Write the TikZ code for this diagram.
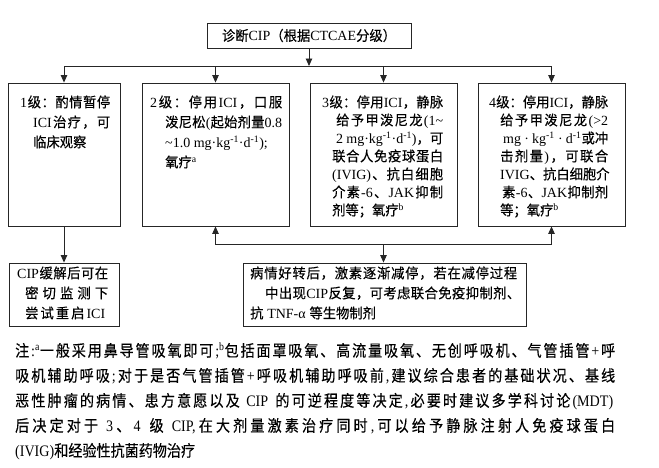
\documentclass[tikz,border=0pt]{standalone}
\usepackage{fontspec}
\usetikzlibrary{arrows.meta}
\setmainfont{Liberation Serif}
\newfontfamily\latnotefam{Liberation Serif}[FakeStretch=0.88]
\IfFontExistsTF{FandolSong-Regular.otf}{%
  \newfontfamily\cjkboxfam{FandolSong-Regular.otf}[FakeStretch=0.95]%
  \newfontfamily\cjknotefam{FandolSong-Regular.otf}[FakeStretch=0.88]}{%
  \newfontfamily\cjkboxfam{Noto Sans CJK SC}[FakeStretch=0.95,FakeBold=0.3]%
  \newfontfamily\cjknotefam{Noto Sans CJK SC}[FakeStretch=0.88,FakeBold=0.3]}
\def\curcjk{\cjkboxfam}
\def\curlat{\rmfamily}
\XeTeXinterchartokenstate=1
\newXeTeXintercharclass\CJKcls
\makeatletter
\count@="2E80
\loop\ifnum\count@<"A000 \XeTeXcharclass\count@=\CJKcls \advance\count@ by 1 \repeat
\count@="FF00
\loop\ifnum\count@<"FFF0 \XeTeXcharclass\count@=\CJKcls \advance\count@ by 1 \repeat
\makeatother
\XeTeXinterchartoks 0 \CJKcls = {\hskip 0pt plus 1pt\curcjk}
\XeTeXinterchartoks 4095 \CJKcls = {\curcjk}
\XeTeXinterchartoks \CJKcls 0 = {\hskip 0pt plus 1pt\curlat}
\XeTeXinterchartoks 4095 0 = {\curlat}
\XeTeXinterchartoks \CJKcls \CJKcls = {\hskip 0pt plus 1pt}
\newcommand\kgd{mg·kg\textsuperscript{-1}·d\textsuperscript{-1}}
\begin{document}
\begin{tikzpicture}[x=1pt,y=-1pt,
  box/.style={draw=black!85,line width=0.9pt,rectangle,inner sep=0pt},
  txt/.style={anchor=base west,inner sep=0pt,font=\boxfont},
  ntxt/.style={anchor=base west,inner sep=0pt,font=\notefont},
  arr/.style={draw=black!85,line width=0.9pt,-{Triangle[length=7.5pt,width=6.5pt]}},
  lin/.style={draw=black!85,line width=0.9pt}]
\def\boxfont{\def\curcjk{\cjkboxfam}\def\curlat{\rmfamily}\fontsize{14}{16}\selectfont}
\def\notefont{\def\curcjk{\cjknotefam}\def\curlat{\latnotefam}\fontsize{16}{18}\selectfont}
\useasboundingbox[fill=white] (0,0) rectangle (659,467);

% boxes
\node[box,minimum width=204pt,minimum height=25pt,font=\boxfont] (top) at (309,35.5) {诊断CIP（根据CTCAE分级）};
\node[box,minimum width=112pt,minimum height=143pt] (g1) at (64,154.5) {};
\node[box,minimum width=147pt,minimum height=143pt] (g2) at (215.5,154.5) {};
\node[box,minimum width=147pt,minimum height=143pt] (g3) at (383.5,154.5) {};
\node[box,minimum width=147pt,minimum height=143pt] (g4) at (551.5,154.5) {};
\node[box,minimum width=110pt,minimum height=63pt] (r1) at (64,294.5) {};
\node[box,minimum width=283pt,minimum height=63pt] (r2) at (384.5,294.5) {};

% connectors
\coordinate (hub) at (309,66);
\coordinate (hub2) at (383.5,244);
\draw[arr] (top.south) -- (hub);
\draw[arr] (hub) -| (g1.north);
\draw[arr] (hub) -| (g2.north);
\draw[arr] (hub) -| (g3.north);
\draw[arr] (hub) -| (g4.north);
\draw[arr] (g1.south) -- (r1.north);
\draw[arr] (hub2) -| (g2.south);
\draw[arr] (hub2) -| (g4.south);
\draw[arr] (hub2) -- (hub2 |- r2.north);

% box 1
\node[txt] (g1a) at (20,107.3) {\makebox[90pt][s]{1级：酌情暂停}};
\node[txt] (g1b) at (33,127.3) {\makebox[77pt][s]{ICI治疗，可}};
\node[txt] (g1c) at (33,147.3) {临床观察};
% box 2
\node[txt] (g2a) at (150,107.3) {\makebox[132pt][s]{2级：停用ICI，口服}};
\node[txt] (g2b) at (165,127.3) {\makebox[117pt][s]{泼尼松(起始剂量0.8}};
\node[txt] (g2c) at (165,147.3) {\textasciitilde1.0 \kgd);};
\node[txt] (g2d) at (165,167.3) {氧疗\textsuperscript{a}};
% box 3
\node[txt] (g3a) at (322,107.3) {\makebox[121pt][s]{3级：停用ICI，静脉}};
\node[txt] (g3b) at (336,125.3) {\makebox[107pt][s]{给予甲泼尼龙(1\textasciitilde}};
\node[txt] (g3c) at (336,143.3) {\makebox[107pt][s]{2 \kgd)，可}};
\node[txt] (g3d) at (332,161.3) {\makebox[111pt][s]{联合人免疫球蛋白}};
\node[txt] (g3e) at (332,179.3) {\makebox[111pt][s]{(IVIG)、抗白细胞}};
\node[txt] (g3f) at (332,197.3) {\makebox[111pt][s]{介素-6、JAK抑制}};
\node[txt] (g3g) at (332,215.3) {剂等；氧疗\textsuperscript{b}};
% box 4
\node[txt] (g4a) at (489,107.3) {\makebox[119pt][s]{4级：停用ICI，静脉}};
\node[txt] (g4b) at (500,125.3) {\makebox[108pt][s]{给予甲泼尼龙(>2}};
\node[txt] (g4c) at (503,143.3) {\makebox[105pt][s]{mg · kg\textsuperscript{-1} · d\textsuperscript{-1}或冲}};
\node[txt] (g4d) at (500,161.3) {\makebox[108pt][s]{击剂量)，可联合}};
\node[txt] (g4e) at (500,179.3) {\makebox[108pt][s]{IVIG、抗白细胞介}};
\node[txt] (g4f) at (502,197.3) {\makebox[106pt][s]{素-6、JAK抑制剂}};
\node[txt] (g4g) at (500,215.3) {等；氧疗\textsuperscript{b}};
% bottom left
\node[txt] (r1a) at (17,278.3) {\makebox[91pt][s]{CIP缓解后可在}};
\node[txt] (r1b) at (25,298.3) {\makebox[83pt][s]{密切监测下}};
\node[txt] (r1c) at (25,318.3) {\makebox[80pt][s]{尝试重启ICI}};
% bottom right
\node[txt] (r2a) at (250,278.3) {\makebox[267pt][s]{病情好转后，激素逐渐减停，若在减停过程}};
\node[txt] (r2b) at (265,298.3) {\makebox[255pt][s]{中出现CIP反复，可考虑联合免疫抑制剂、}};
\node[txt] (r2c) at (250,318.3) {抗\makebox[46pt][s]{\hskip 1pt plus 1fil TNF-α\hskip 1pt plus 1fil}等生物制剂};

% notes
\node[ntxt] (n1) at (15,356.5) {\makebox[600pt][s]{注:\textsuperscript{a}一般采用鼻导管吸氧即可;\textsuperscript{b}包括面罩吸氧、高流量吸氧、无创呼吸机、气管插管+呼}};
\node[ntxt] (n2) at (15,381.5) {\makebox[600pt][s]{吸机辅助呼吸;对于是否气管插管+呼吸机辅助呼吸前,建议综合患者的基础状况、基线}};
\node[ntxt] (n3) at (15,406.5) {\makebox[598pt][s]{恶性肿瘤的病情、患方意愿以及 CIP 的可逆程度等决定,必要时建议多学科讨论(MDT)}};
\node[ntxt] (n4) at (15,431.5) {\makebox[600pt][s]{后决定对于 3、4 级 CIP,在大剂量激素治疗同时,可以给予静脉注射人免疫球蛋白}};
\node[ntxt] (n5) at (15,456.5) {(IVIG)和经验性抗菌药物治疗};
\end{tikzpicture}
\end{document}
